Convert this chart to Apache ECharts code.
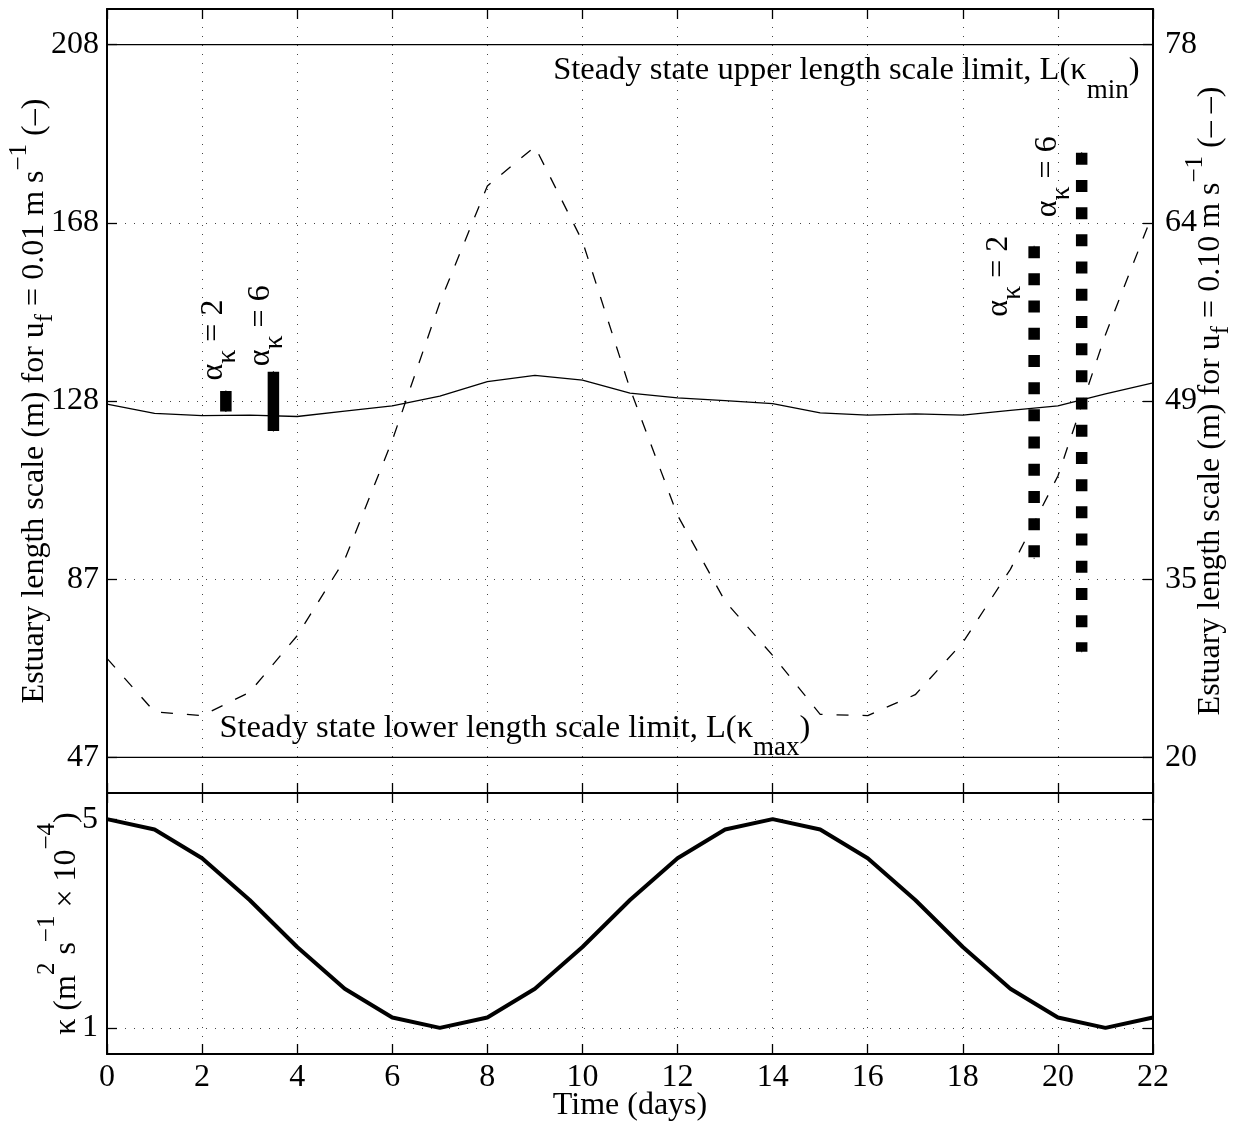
<!DOCTYPE html>
<html>
<head>
<meta charset="utf-8">
<title>Estuary length scale</title>
<script src="https://cdn.jsdelivr.net/npm/echarts@6/dist/echarts.min.js"></script>
<style>
html, body { margin: 0; padding: 0; background: #fff; }
#chart { width: 1242px; height: 1130px; }
</style>
</head>
<body>
<div id="chart"></div>
<script>
// 时间 (days)
var days = [ 0, 1, 2, 3, 4, 5, 6, 7, 8, 9, 10, 11, 12, 13, 14, 15, 16, 17, 18, 19, 20, 21, 22 ];
// length scale for uf = 0.01 m/s (left axis, solid)
var lengthSlow = [ 126.8, 124.7, 124.2, 124.3, 124.0, 125.2, 126.4, 128.6, 131.9, 133.3, 132.2, 129.3,
		128.2, 127.6, 126.9, 124.8, 124.3, 124.6, 124.3, 125.4, 126.4, 129.1, 131.6 ];
// length scale for uf = 0.10 m/s (right axis, dashed)
var lengthFast = [ 28.05, 23.7, 23.4, 25.3, 29.9, 36.1, 45.8, 57.0, 66.5, 69.7, 62.0, 50.0, 39.7, 32.7,
		28.3, 23.5, 23.4, 25.1, 29.35, 35.3, 42.9, 54.4, 64.3 ];
// kappa (m2 s-1 x 1e-4), lower panel
var kappa = [ 5.0, 4.8, 4.25, 3.45, 2.55, 1.75, 1.2, 1.0, 1.2, 1.75, 2.55, 3.45, 4.25, 4.8, 5.0, 4.8,
		4.25, 3.45, 2.55, 1.75, 1.2, 1.0, 1.2 ];
// steady state limits (left axis)
var limitUpper = 208;
var limitLower = 47;
// alpha_kappa ranges
var rangeAlpha = [ 2, 6 ];
var rangeSlowDays = [ 2.5, 3.5 ];
var rangeSlowLow = [ 125.1, 120.7 ];
var rangeSlowHigh = [ 129.75, 134.1 ];
var rangeFastDays = [ 19.5, 20.5 ];
var rangeFastLow = [ 36.2, 28.6 ];
var rangeFastHigh = [ 61.6, 69.2 ];
// tick values / labels
var leftTicks = [ 47, 87.25, 127.5, 167.75, 208 ];
var leftTickLabels = [ '47', '87', '128', '168', '208' ];
var rightTicks = [ 20, 34.5, 49, 63.5, 78 ];
var rightTickLabels = [ '20', '35', '49', '64', '78' ];
var kappaTicks = [ 1, 5 ];
var kappaTickLabels = [ '1', '5' ];

var FONT = 'Liberation Serif';
var BLACK = '#000';

// label offsets (px) of the alpha labels, relative to the top of each bar
var slowLabelOffset = [ [ -28, -10 ], [ -28, -5 ] ];
var fastLabelOffset = [ [ -51, 71 ], [ -50, 65 ] ];

function pairs(xs, ys) {
	var out = [];
	for (var i = 0; i < xs.length; i++) {
		out.push([ xs[i], ys[i] ]);
	}
	return out;
}

function tickLabel(ticks, labels) {
	return function(v) {
		var best = 0;
		for (var i = 1; i < ticks.length; i++) {
			if (Math.abs(ticks[i] - v) < Math.abs(ticks[best] - v)) best = i;
		}
		return labels[best];
	};
}

// rich styles: n = normal, p = superscript, b = subscript
function richText(size, small, raise, drop) {
	return {
		n : { fontFamily : FONT, fontSize : size, lineHeight : size, color : BLACK, verticalAlign : 'top', padding : [ raise, 0, 0, 0 ] },
		p : { fontFamily : FONT, fontSize : small, lineHeight : size, color : BLACK, verticalAlign : 'top', padding : [ 0, 0, 0, 0 ] },
		b : { fontFamily : FONT, fontSize : small, lineHeight : size, color : BLACK, verticalAlign : 'top', padding : [ raise + drop, 0, 0, 0 ] }
	};
}

var gridDots = { show : true, lineStyle : { type : [ 1, 8 ], color : '#444', width : 1 } };
var boxLine = { show : true, onZero : false, lineStyle : { color : BLACK, width : 2 } };
var inTick = { show : true, inside : true, length : 10, lineStyle : { color : BLACK, width : 1.3 } };

function xAxisDef(grid, pos, labels, split) {
	return {
		type : 'value', gridIndex : grid, position : pos, min : 0, max : 22, interval : 2,
		axisLine : boxLine, axisTick : inTick,
		axisLabel : { show : labels, margin : 8, color : BLACK, fontFamily : FONT, fontSize : 32 },
		splitLine : split ? gridDots : { show : false }
	};
}

function yAxisDef(grid, pos, min, max, ticks, labels, showLabel, split, margin) {
	return {
		type : 'value', gridIndex : grid, position : pos, min : min, max : max,
		axisLine : boxLine,
		axisTick : { show : true, inside : true, length : 10, customValues : ticks, lineStyle : { color : BLACK, width : 1.3 } },
		axisLabel : { show : showLabel, customValues : ticks, formatter : tickLabel(ticks, labels), margin : margin,
			color : BLACK, fontFamily : FONT, fontSize : 32 },
		splitLine : split ? gridDots : { show : false },
		nameMoveOverlap : false
	};
}

function alphaLabel(alpha, offset) {
	return {
		show : true, rotate : 90, position : offset, align : 'left', verticalAlign : 'top',
		formatter : '{n|α}{b|κ}{n| = ' + alpha + '}',
		rich : richText(32, 28, 0, 16)
	};
}

// range bar: line from the top down, label on the top point
function rangeSeries(day, lo, hi, alpha, offset, yIndex, dotted) {
	return {
		type : 'line', xAxisIndex : 0, yAxisIndex : yIndex,
		symbol : 'rect', symbolSize : 1, itemStyle : { color : BLACK },
		lineStyle : { color : BLACK, width : 11.5, type : dotted ? [ 12, 15.2 ] : 'solid', cap : 'butt' },
		data : [ { value : [ day, hi ], label : alphaLabel(alpha, offset) }, [ day, lo ] ],
		z : 5
	};
}

var series = [];
series.push({
	name : 'uf 0.01', type : 'line', xAxisIndex : 0, yAxisIndex : 0, showSymbol : false,
	lineStyle : { color : BLACK, width : 1.3 }, data : pairs(days, lengthSlow)
});
series.push({
	name : 'uf 0.10', type : 'line', xAxisIndex : 0, yAxisIndex : 1, showSymbol : false,
	lineStyle : { color : BLACK, width : 1.3, type : [ 12, 14 ] }, data : pairs(days, lengthFast)
});
// steady state limit lines
series.push({
	type : 'line', xAxisIndex : 0, yAxisIndex : 0, symbol : 'rect', symbolSize : 1, itemStyle : { color : BLACK },
	lineStyle : { color : BLACK, width : 1.3 },
	data : [ [ days[0], limitUpper ], {
		value : [ days[days.length - 1], limitUpper ],
		label : { show : true, position : [ -13, 10 ], align : 'right', verticalAlign : 'top',
			formatter : '{n|Steady state upper length scale limit, L(κ}{b|min}{n|)}',
			rich : richText(32.5, 27, 0, 23) }
	} ]
});
series.push({
	type : 'line', xAxisIndex : 0, yAxisIndex : 0, symbol : 'rect', symbolSize : 1, itemStyle : { color : BLACK },
	lineStyle : { color : BLACK, width : 1.3 },
	data : [ {
		value : [ days[0], limitLower ],
		label : { show : true, position : [ 113, -45 ], align : 'left', verticalAlign : 'top',
			formatter : '{n|Steady state lower length scale limit, L(κ}{b|max}{n|)}',
			rich : richText(32.5, 27, 0, 23) }
	}, [ days[days.length - 1], limitLower ] ]
});
for (var i = 0; i < rangeAlpha.length; i++) {
	series.push(rangeSeries(rangeSlowDays[i], rangeSlowLow[i], rangeSlowHigh[i], rangeAlpha[i], slowLabelOffset[i], 0, false));
	series.push(rangeSeries(rangeFastDays[i], rangeFastLow[i], rangeFastHigh[i], rangeAlpha[i], fastLabelOffset[i], 1, true));
}
series.push({
	name : 'kappa', type : 'line', xAxisIndex : 2, yAxisIndex : 2, showSymbol : false,
	lineStyle : { color : BLACK, width : 4 }, data : pairs(days, kappa)
});

var yLeft = yAxisDef(0, 'left', 38.95, 216.05, leftTicks, leftTickLabels, true, true, 8);
yLeft.name = '{n|Estuary length scale (m) for u}{b|f}{n| = 0.01 m s}{p|−1}{n| (–)}';
yLeft.nameLocation = 'middle';
yLeft.nameGap = 68;
yLeft.nameTextStyle = { rich : richText(32, 25, 12, 14) };

var yRight = yAxisDef(0, 'right', 17.1, 80.9, rightTicks, rightTickLabels, true, false, 12);
yRight.name = '{n|Estuary length scale (m) for u}{b|f}{n| = 0.10 m s}{p|−1}{n| (– –)}';
yRight.nameLocation = 'middle';
yRight.nameGap = 30;
yRight.nameTextStyle = { rich : richText(32, 25, 12, 14) };

var yKappa = yAxisDef(1, 'left', 0.5, 5.5, kappaTicks, kappaTickLabels, true, true, 9);
yKappa.name = '{n|κ (m}{p|2}{n| s}{p|−1}{n| × 10}{p|−4}{n|)}';
yKappa.nameLocation = 'middle';
yKappa.nameGap = 40;
yKappa.nameTextStyle = { rich : richText(32, 25, 16, 0) };

var xBottom = xAxisDef(1, 'bottom', true, true);
xBottom.name = 'Time (days)';
xBottom.nameLocation = 'middle';
xBottom.nameGap = 36;
xBottom.nameMoveOverlap = false;
xBottom.nameTextStyle = { color : BLACK, fontFamily : FONT, fontSize : 32 };

var option = {
	animation : false,
	backgroundColor : '#fff',
	textStyle : { fontFamily : FONT, color : BLACK },
	grid : [
		{ left : 107, top : 9, width : 1046, height : 784, outerBoundsMode : 'none' },
		{ left : 107, top : 793, width : 1046, height : 261, outerBoundsMode : 'none' }
	],
	xAxis : [
		xAxisDef(0, 'bottom', false, true),
		xAxisDef(0, 'top', false, false),
		xBottom,
		xAxisDef(1, 'top', false, false)
	],
	yAxis : [
		yLeft,
		yRight,
		yKappa,
		yAxisDef(1, 'right', 0.5, 5.5, kappaTicks, kappaTickLabels, false, false, 8)
	],
	series : series
};

var myChart = echarts.init(document.getElementById('chart'), null, { renderer : 'canvas' });
myChart.setOption(option);
</script>
</body>
</html>
